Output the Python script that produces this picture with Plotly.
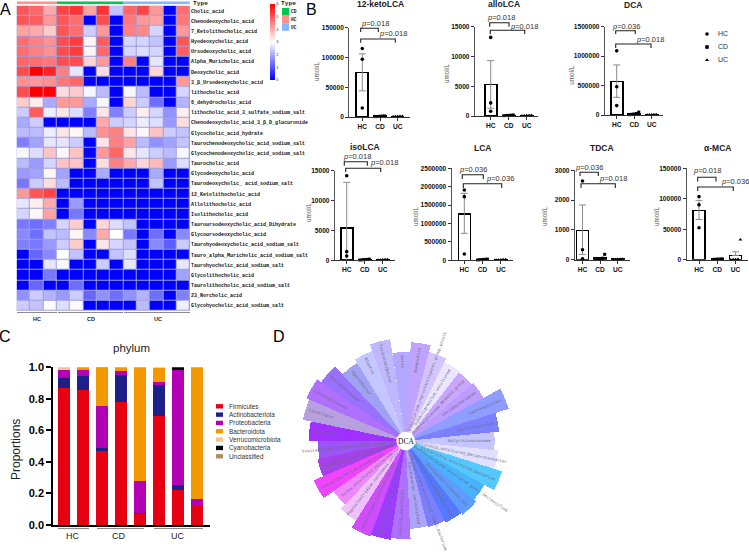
import math
import plotly.graph_objects as go

W, H = 749, 554

# ---------- Panel A data ----------
metabolites = ["Cholic_acid", "Chenodeoxycholic_acid", "7_Ketolithocholic_acid", "Hyodeoxycholic_acid",
    "Ursodeoxycholic_acid", "Alpha_Muricholic_acid", "Deoxycholic_acid", "3_\u03b2_Ursodeoxycholic_acid",
    "lithocholic_acid", "6_dehydrocholic_acid", "lithocholic_acid_3_sulfate_sodium_salt",
    "Chenodeoxycholic_acid_3_\u03b2_D_glucuronide", "Glycocholic_acid_hydrate",
    "Taurochenodeoxycholic_acid_sodium_salt", "Glycochenodeoxycholic_acid_sodium_salt", "Taurocholic_acid",
    "Glycodeoxycholic_acid", "Taurodeoxycholic_ acid_sodium_salt", "12_Ketolithocholic_acid",
    "Allolithocholic_acid", "Isolithocholic_acid", "Tauroursodeoxycholic_acid_Dihydrate",
    "Glycoursodeoxycholic_acid", "Taurohyodeoxycholic_acid_sodium_salt",
    "Tauro_alpha_Muricholic_acid_sodium_salt", "Taurohyocholic_acid_sodium_salt", "Glycolithocholic_acid",
    "Taurolithocholic_acid_sodium_salt", "23_Norcholic_acid", "Glycohyocholic_acid_sodium_salt"]
heat_values = [
    [5.0,4.8,4.0, 5.2,5.4,4.1,5.4,2.3, 4.8,5.2,4.2,0,4.7],
    [5.0,4.9,4.2, 5.0,4.7,0,5.1,0, 4.6,4.2,4.1,0,4.6],
    [4.1,4.0,3.6, 5.0,4.7,2.4,4.2,0, 4.5,4.4,2.5,0,4.2],
    [4.7,4.5,4.3, 5.1,5.3,3.1,4.9,0, 2.5,2.5,2.3,0,5.0],
    [4.7,4.5,4.3, 5.1,5.3,3.1,4.8,0, 2.5,2.6,2.5,0,4.9],
    [4.8,4.7,4.6, 5.1,5.1,3.5,4.2,0, 4.5,0,2.7,0,0],
    [5.1,6.0,5.6, 4.5,2.7,0,3.4,0, 0,0,3.5,0,0],
    [4.3,4.2,4.3, 4.6,4.8,0,0,0, 0,0,0,0,4.2],
    [5.1,6.0,6.0, 3.4,3.6,2.9,2.2,0, 2.9,2.2,0,0,2.5],
    [3.6,3.2,2.0, 4.2,4.2,2.0,2.9,0, 3.5,2.4,1.3,0,2.1],
    [2.4,4.9,2.8, 3.3,2.6,1.5,3.3,1.5, 2.4,3.2,2.5,1.7,3.2],
    [2.0,2.4,0, 0,0,0,4.0,2.4, 2.5,2.8,2.6,1.8,3.4],
    [2.2,2.2,2.8, 3.3,3.1,2.2,4.3,4.5, 3.3,3.1,3.7,2.4,2.3],
    [1.5,1.9,2.7, 2.7,2.4,0,3.3,4.5, 4.1,2.2,1.7,1.9,2.3],
    [2.9,2.6,3.7, 3.1,3.7,0,4.2,4.8, 3.3,2.7,2.4,2.2,2.9],
    [2.2,1.8,2.5, 3.7,3.7,0,3.4,4.5, 4.0,3.5,3.8,1.8,2.6],
    [1.8,1.9,3.1, 1.9,0,0,2.0,0, 0,0,2.0,0,0],
    [1.4,2.4,3.4, 2.2,0,0,0,0, 0,0,2.3,0,0],
    [4.2,5.0,5.2, 0,0,0,0,0, 0,0,0,0,0],
    [2.7,3.2,4.0, 0,1.8,0,0,0, 0,0,0,0,0],
    [2.5,3.1,4.1, 0,1.4,0,0,0, 0,0,0,0,0],
    [1.4,1.3,1.5, 2.5,3.6,0,3.5,2.6, 2.3,0,0,0,0],
    [1.6,1.3,2.3, 2.2,3.1,1.6,4.0,3.0, 1.4,0,1.3,0,1.6],
    [1.5,1.4,1.8, 2.4,3.6,0,3.3,2.5, 2.3,0,1.6,1.1,2.4],
    [0,1.2,1.6, 3.0,2.3,0,0,2.3, 2.6,0,0,0,0],
    [0,0,2.7, 2.9,0,0,2.4,0, 2.7,0,0,0,2.7],
    [0,0,1.4, 0,0,0,0,0, 0,0,0,0,1.9],
    [0,1.2,0, 0,1.3,0,0,0, 0,0,0,0,0],
    [1.7,2.4,2.1, 1.8,2.4,1.2,1.7,1.3, 1.7,2.1,1.3,0,1.5],
    [2.4,2.3,2.95, 2.6,2.95,0,0,0, 0,2.2,0,0,2.8],
]
sample_types = [0,0,0, 1,1,1,1,1, 2,2,2,2,2]
HM_COLORS = ["#FF9289", "#00C94F", "#82B7FF"]

# ---------- Panel B data ----------
groups = ["HC", "CD", "UC"]
bile_names = ["12-ketoLCA", "alloLCA", "DCA", "isoLCA", "LCA", "TDCA", "\u03b1-MCA"]
hc_mean = [75000, 5300, 570000, 5400, 1260000, 985, 81000]
cd_mean = [1200, 110, 20000, 120, 22000, 60, 900]
uc_mean = [1000, 90, 6000, 100, 16000, 15, 7000]
hc_err_up = [31000, 4000, 280000, 7650, 560000, 850, 16400]
hc_err_down = [31000, 4000, 270000, 5400, 527000, 806, 15000]
uc_err_up = [0, 0, 0, 0, 0, 0, 6000]
hc_points = [[115000, 97000, 15000], [13200, 2200, 800], [1090000, 480000, 160000],
             [14150, 1450, 725], [1910000, 1730000, 172000], [2640, 336, 33], [103500, 90000, 52500]]
cd_points = [[600, 900, 1200, 1500, 1800], [50, 80, 100, 140, 170], [5000, 12000, 18000, 25000, 50000],
             [50, 90, 120, 150, 190], [10000, 18000, 22000, 28000, 32000], [10, 25, 40, 50, 180], [400, 700, 900, 1100, 1400]]
uc_points = [[500, 800, 1000, 1200, 1500], [40, 70, 90, 110, 140], [2000, 4000, 6000, 8000, 10000],
             [40, 70, 100, 130, 160], [8000, 12000, 16000, 20000, 24000], [5, 10, 15, 20, 25], [200, 400, 600, 800, 33000]]
p_first = ["0.018", "0.018", "0.036", "0.018", "0.036", "0.036", "0.018"]
p_second = ["0.018", "0.018", "0.018", "0.018", "0.036", "0.018", "0.036"]
axis_max = [150000, 15000, 1500000, 15000, 2500000, 3000, 150000]
axis_step = [50000, 5000, 500000, 5000, 500000, 1000, 50000]

# ---------- Panel C data ----------
phyla = ["Firmicutes", "Actinobacteriota", "Proteobacteria", "Bacteroidota",
         "Verrucomicrobiota", "Cyanobacteria", "Unclassified"]
phylum_colors = ["#E60012", "#1D2088", "#B400B4", "#F39800", "#F3C68C", "#000000", "#B09060"]
firmicutes = [.868, .855, .47, .778, .068, .688, .222, .12]
actinobacteriota = [.065, .09, .018, .17, .007, .2, .032, 0]
proteobacteria = [.052, .035, .265, .03, .203, .018, .728, .043]
bacteroidota = [0, .02, .242, .022, .722, .09, 0, .837]
verrucomicrobiota = [.015, 0, 0, 0, 0, .004, 0, 0]
cyanobacteria = [0, 0, 0, 0, 0, 0, .018, 0]
unclassified = [0, 0, .005, 0, 0, 0, 0, 0]
phylum_series = [firmicutes, actinobacteriota, proteobacteria, bacteroidota,
                 verrucomicrobiota, cyanobacteria, unclassified]

# ---------- Panel D data ----------
taxa = ["Dorea", "Romboutsia", "Eubacterium_coprostanoligenes_group_uncult", "Subdoligranulum_uncultured",
    "Ruminococcaceae_NK4A214_group", "Coriobacteriales", "Lachnospirales", "Oscillospirales",
    "Butyricicoccaceae", "Ralstonia_uncultured_Betaproteobacter", "Escherichia_uncultured_bacterium",
    "Ruminococcaceae_uncultured_genus_Unclassified", "Erysipelotrichaceae_UCG", "Lachnospiraceae_NK4A136_group",
    "Lachnospiraceae_uncultured_rumen_bacterium", "Agathobacter_Unclassified", "Blautia_uncultured",
    "Blautia_uncultured_bacterium", "Anaerostipes_Faecalibacterium", "Peptoclostridium_hathewayi_uncult",
    "Dorea_uncultured_bacterium", "Faecalibacterium_prausnitzii", "Fusicatenibacter_Unclassified",
    "Fusicatenibacter_uncultured_bacterium", "Firmicutes", "Clostridia", "Lachnospiraceae", "Ruminococcaceae",
    "Agathobacter", "Blautia", "Fusicatenibacter"]
taxa_values = [89, 99, 92, 88, 87, 89, 108, 94, 89, 93, 101, 90, 93, 91, 89, 88, 98, 100, 102, 94,
               88, 100, 90, 88, 97, 105, 108, 103, 92, 96, 103]
taxa_colors = ["#B3A8FF", "#BFA3FF", "#D5C5FF", "#ECE6FF", "#C9A6FF", "#BC9CFF", "#8E9DFF", "#7C80FF",
    "#C5C5FF", "#E2E0FF", "#55C8FF", "#48B4FF", "#5E9CFF", "#5578FF", "#7A7FFF", "#ADA4FF", "#B070FF",
    "#9B3CFF", "#D24CFF", "#F0C0FF", "#EE88FF", "#EE44FF", "#A640E8", "#9B55F5", "#A030FF", "#B8A0E0",
    "#B070FF", "#9A70FF", "#A0A0F5", "#C5C5FF", "#C0B8FF"]

# ---------- helpers ----------
def px(x): return x / W
def py(y): return 1 - y / H

fig = go.Figure()
annotations, shapes = [], []
layout_axes = {}
SANS = "Liberation Sans"
MONO = "Liberation Mono"

def ann(x, y, text, size, color="#000000", bold=False, angle=0, family=SANS, xanchor="center"):
    annotations.append(dict(x=px(x), y=py(y), xref="paper", yref="paper", text=text, showarrow=False,
        font=dict(size=size, color=color, family=family, weight=700 if bold else 400),
        textangle=angle, xanchor=xanchor, yanchor="middle", borderpad=0, borderwidth=0))

def rect(x0, y0, x1, y1, color, layer="above"):
    shapes.append(dict(type="rect", xref="paper", yref="paper", x0=px(x0), x1=px(x1), y0=py(y0), y1=py(y1),
        fillcolor=color, line=dict(width=0), layer=layer))

def hline(x0, x1, y, color="#8C8C8C", width=1.2):
    shapes.append(dict(type="line", xref="paper", yref="paper", x0=px(x0), x1=px(x1), y0=py(y), y1=py(y),
        line=dict(color=color, width=width)))

def bracket(x0, x1, ytop, ybot, color="#222222"):
    path = f"M {px(x0)} {py(ybot)} L {px(x0)} {py(ytop)} L {px(x1)} {py(ytop)} L {px(x1)} {py(ybot)}"
    shapes.append(dict(type="path", xref="paper", yref="paper", path=path, line=dict(color=color, width=1.1)))

# ---------- Panel A ----------
HX0, HX1, HY0, HY1 = 16.7, 190.0, 5.7, 310.7
rect(HX0, HY0, HX1, HY1, "#A0A0D8", layer="below")
fig.add_trace(go.Heatmap(z=heat_values, y=metabolites, x=list(range(13)), xaxis="x", yaxis="y",
    colorscale=[[0, "#0000FF"], [.5, "#FFFFFF"], [1, "#FF0000"]], zmin=0, zmax=6, xgap=1, ygap=1,
    colorbar=dict(x=px(270), xanchor="left", y=py(4), yanchor="top", thicknessmode="pixels", thickness=5,
        lenmode="pixels", len=76, xpad=0, ypad=0, outlinewidth=0, ticks="", tickvals=[0, 1, 2, 3, 4, 5, 6],
        tickfont=dict(size=4, family=SANS, color="#333333"))))
layout_axes["xaxis"] = dict(domain=[px(HX0), px(HX1)], visible=False, range=[-.5, 12.5], anchor="y")
layout_axes["yaxis"] = dict(domain=[py(HY1), py(HY0)], autorange="reversed", side="right", anchor="x",
    showline=False, showgrid=False, ticks="", ticklen=0, tickmode="array", tickvals=metabolites, ticktext=metabolites,
    tickfont=dict(size=5, family=MONO, color="#111111", weight=700))
fig.add_trace(go.Heatmap(z=[sample_types], x=list(range(13)), y=["Type"], xaxis="x2", yaxis="y2", zmin=0, zmax=2,
    colorscale=[[0, HM_COLORS[0]], [.5, HM_COLORS[1]], [1, HM_COLORS[2]]], showscale=False))
layout_axes["xaxis2"] = dict(domain=[px(HX0), px(HX1)], visible=False, range=[-.5, 12.5], anchor="y2")
layout_axes["yaxis2"] = dict(domain=[py(4.3), py(1.3)], visible=False, anchor="x2")
ann(193, 4, "Type", 6.2, bold=True, family=MONO, xanchor="left", color="#222222")
ann(281, 4, "Type", 6.2, bold=True, family=MONO, xanchor="left", color="#222222")
for i, (lbl, c) in enumerate(zip(["CD", "HC", "UC"], [HM_COLORS[1], HM_COLORS[0], HM_COLORS[2]])):
    rect(282, 8 + 7.6 * i, 289, 15.6 + 7.6 * i, c)
    ann(291, 11.8 + 7.6 * i, lbl, 4.5, bold=True, family=MONO, xanchor="left", color="#222222")
for x0, x1, lbl, cx in [(17, 57, "HC", 37), (58, 123, "CD", 91), (124, 190, "UC", 158)]:
    hline(x0, x1, 312.5)
    ann(cx, 318.5, lbl, 5.5, bold=True, color="#222222")

# panel letters
for lbl, x, y in [("A", 5, 9), ("B", 311, 9), ("C", 5, 336), ("D", 279, 336)]:
    ann(x, y, lbl, 16, family="Liberation Sans Narrow, Liberation Sans")

# ---------- Panel B ----------
# left axis px, right px, y of top tick, y of zero, centres first px, spacing px
geom = [
    (349.3, 410.0, 27.7, 117.0, 362.3, 17.7),
    (475.0, 538.0, 26.7, 116.0, 490.7, 18.0),
    (605.0, 663.0, 26.7, 115.0, 616.7, 17.5),
    (335.0, 395.0, 170.7, 260.3, 346.7, 18.0),
    (451.7, 513.0, 168.3, 260.3, 464.3, 18.3),
    (575.0, 630.0, 170.3, 259.7, 582.5, 17.6),
    (686.7, 748.3, 168.3, 259.7, 699.0, 18.3),
]
title_pos = [(380, 4), (504, 4), (633, 5), (365, 146.5), (482.7, 148), (601.7, 148), (717, 148)]
unit_pos = [(317, 72), (446, 74), (570.7, 75), (308, 213), (415, 217), (544, 217), (656, 217)]
brackets = [
    ((360.7, 378.3, 28.3, 32, 375, 24), (360.7, 395.3, 39, 42.7, 393.3, 33.7)),
    ((489.7, 509, 22.7, 26.7, 500.7, 17.3), (490.3, 524.7, 30.3, 34, 524.3, 26.3)),
    ((615.7, 635.3, 30.7, 34, 626, 26.7), (615.7, 651, 44, 48, 650, 39)),
    ((344.3, 367.3, 161.7, 165.7, 357.3, 156), (345.7, 380.7, 168.3, 172, 384, 163)),
    ((462.3, 483.3, 174.7, 179, 473.3, 170), (463.3, 501.7, 183.7, 188, 500, 178.7)),
    ((580, 598.3, 172.3, 176, 589.3, 167.3), (581, 615.3, 183.7, 188, 613.3, 178.7)),
    ((697.7, 716, 177.3, 181.5, 707.3, 170.3), (697.7, 733.3, 187, 191, 735, 181.3)),
]
dodge = [-.26, -.13, 0, .13, .26]
AX_COL = "#333333"
for k, name in enumerate(bile_names):
    xl, xr, ytop, y0, c0, s = geom[k]
    n = k + 3
    xa, ya = f"x{n}", f"y{n}"
    fig.add_trace(go.Bar(x=[0, 1, 2], y=[hc_mean[k], cd_mean[k], uc_mean[k]], xaxis=xa, yaxis=ya, width=12 / s,
        marker=dict(color="#FFFFFF", line=dict(color="#000000", width=1.6)), cliponaxis=False, showlegend=False))
    fig.add_trace(go.Scatter(x=[0, 2], y=[hc_mean[k], uc_mean[k]], xaxis=xa, yaxis=ya, mode="markers",
        marker=dict(size=1, color="rgba(0,0,0,0)"), cliponaxis=False, showlegend=False,
        error_y=dict(type="data", symmetric=False, array=[hc_err_up[k], uc_err_up[k]],
                     arrayminus=[hc_err_down[k], 0], color="#8A8A8A", thickness=1, width=3.5)))
    fig.add_trace(go.Scatter(x=[0, 0, 0], y=hc_points[k], xaxis=xa, yaxis=ya, mode="markers", cliponaxis=False,
        marker=dict(symbol="circle", size=3.6, color="#000000"), showlegend=False))
    fig.add_trace(go.Scatter(x=[1 + d for d in dodge], y=cd_points[k], xaxis=xa, yaxis=ya, mode="markers", cliponaxis=False,
        marker=dict(symbol="square", size=3, color="#000000"), showlegend=False))
    fig.add_trace(go.Scatter(x=[2 + d for d in dodge], y=uc_points[k], xaxis=xa, yaxis=ya, mode="markers", cliponaxis=False,
        marker=dict(symbol="triangle-up", size=3.4, color="#000000"), showlegend=False))
    layout_axes[f"xaxis{n}"] = dict(domain=[px(xl), px(xr)], range=[(xl - c0) / s, (xr - c0) / s], anchor=ya,
        tickmode="array", tickvals=[0, 1, 2], ticktext=groups, ticks="outside", ticklen=3, tickwidth=1,
        tickcolor=AX_COL, showline=True, linecolor=AX_COL, linewidth=1.3, showgrid=False, zeroline=False,
        tickfont=dict(size=6.6, family=SANS, color="#111111", weight=700))
    ticks = list(range(0, axis_max[k] + 1, axis_step[k]))
    layout_axes[f"yaxis{n}"] = dict(domain=[py(y0), py(ytop)], range=[0, axis_max[k]], anchor=xa,
        tickmode="array", tickvals=ticks, ticktext=[str(t) for t in ticks], ticks="outside", ticklen=3, tickwidth=1,
        tickcolor=AX_COL, showline=True, linecolor="#555555", linewidth=1.3, showgrid=False, zeroline=False,
        tickfont=dict(size=6.6, family=SANS, color="#111111", weight=700))
    tx, ty = title_pos[k]
    ann(tx, ty, name, 8.5, bold=True, color="#222222")
    ux, uy = unit_pos[k]
    ann(ux, uy, "umol/L", 6.3, color="#555555", angle=-90)
    for br, p in zip(brackets[k], (p_first[k], p_second[k])):
        x0, x1, t, b, lx, ly = br
        bracket(x0, x1, t, b)
        ann(lx, ly, f"<i>p</i>={p}", 7.5, color="#333333")

# overlay axis for the group legend of panel B
fig.add_trace(go.Scatter(x=[707, 707, 707], y=[34, 47, 60], xaxis="x11", yaxis="y11", mode="markers",
    marker=dict(symbol=["circle", "square", "triangle-up"], size=3.6, color="#000000"), showlegend=False))
layout_axes["xaxis11"] = dict(domain=[0, 1], range=[0, W], visible=False, anchor="y11")
layout_axes["yaxis11"] = dict(domain=[0, 1], range=[H, 0], visible=False, anchor="x11")
for lbl, y in zip(groups, [34, 47, 60]):
    ann(718, y, lbl, 7, color="#333333", xanchor="left")

# ---------- Panel C ----------
bx = list(range(8))
for name, vals, c in zip(phyla, phylum_series, phylum_colors):
    fig.add_trace(go.Bar(x=bx, y=vals, xaxis="x10", yaxis="y10", width=12.7 / 19, name=name,
        marker=dict(color=c, line=dict(width=0)), showlegend=False))
layout_axes["xaxis10"] = dict(domain=[px(53.3), px(210)], range=[(53.3 - 64) / 19, (210 - 64) / 19], anchor="y10",
    showticklabels=False, ticks="", showline=True, linecolor="#000000", linewidth=2.2, showgrid=False, zeroline=False)
layout_axes["yaxis10"] = dict(domain=[py(525), py(367.3)], range=[0, 1], anchor="x10", tickmode="array",
    tickvals=[0, .2, .4, .6, .8, 1], ticktext=["0.0", "0.2", "0.4", "0.6", "0.8", "1.0"], ticks="outside", ticklen=5,
    tickwidth=2, tickcolor="#000000", showline=True, linecolor="#000000", linewidth=2.2, showgrid=False, zeroline=False,
    tickfont=dict(size=11, family=SANS, color="#000000", weight=700))
ann(131, 347.7, "phylum", 11.5, color="#222222")
ann(16, 450, "Proportions", 12, color="#222222", angle=-90)
for x0, x1, lbl, cx in [(58, 89, "HC", 73), (97, 144, "CD", 119), (154, 203, "UC", 178)]:
    hline(x0, x1, 528.5)
    ann(cx, 536, lbl, 9, color="#222222")
for i, (name, c) in enumerate(zip(phyla, phylum_colors)):
    yy = 406.3 + 8.33 * i
    rect(216, yy - 2.2, 223, yy + 2.2, c)
    ann(228.7, yy, name, 6.4, color="#333333", xanchor="left")

# ---------- Panel D ----------
CX, CY, RMAX = 405.7, 441.0, 110.0
STEP = 11.61
theta = [-2.8 + STEP * i for i in range(len(taxa))]
fig.add_trace(go.Barpolar(r=taxa_values, theta=theta, width=[STEP] * len(taxa), subplot="polar",
    marker=dict(color=taxa_colors, line=dict(width=0)), showlegend=False))
layout_polar = dict(domain=dict(x=[px(CX - RMAX), px(CX + RMAX)], y=[py(CY + RMAX), py(CY - RMAX)]),
    bgcolor="rgba(0,0,0,0)",
    angularaxis=dict(direction="clockwise", rotation=90, visible=False),
    radialaxis=dict(visible=False, range=[0, RMAX]))
shapes.append(dict(type="circle", xref="paper", yref="paper", x0=px(CX - 9.3), x1=px(CX + 9.3),
    y0=py(CY + 9.3), y1=py(CY - 9.3), fillcolor="#FFFFFF", line=dict(width=0)))
ann(CX, CY, "DCA", 7.5, family="Liberation Serif", color="#111111")
CHAR = 2.5
for name, r, t in zip(taxa, taxa_values, theta):
    length = len(name) * CHAR
    start = max(r - 4 - length, 11)
    mid = start + length / 2
    a = math.radians(t)
    lx, ly = CX + mid * math.sin(a), CY - mid * math.cos(a)
    tn = t % 360
    angle = tn - 90 if tn <= 180 else tn + 90 - 360
    ann(lx, ly, name, 4.2, color="#6A6A7A", angle=angle, family=MONO)

fig.update_layout(width=W, height=H, margin=dict(l=0, r=0, t=0, b=0, autoexpand=False), autosize=False,
    paper_bgcolor="#FFFFFF", plot_bgcolor="rgba(0,0,0,0)", barmode="stack", polar=layout_polar,
    annotations=annotations, shapes=shapes, showlegend=False, **layout_axes)

fig.write_html("out.html", config={"displayModeBar": False}, post_script="document.body.style.margin='0';")
